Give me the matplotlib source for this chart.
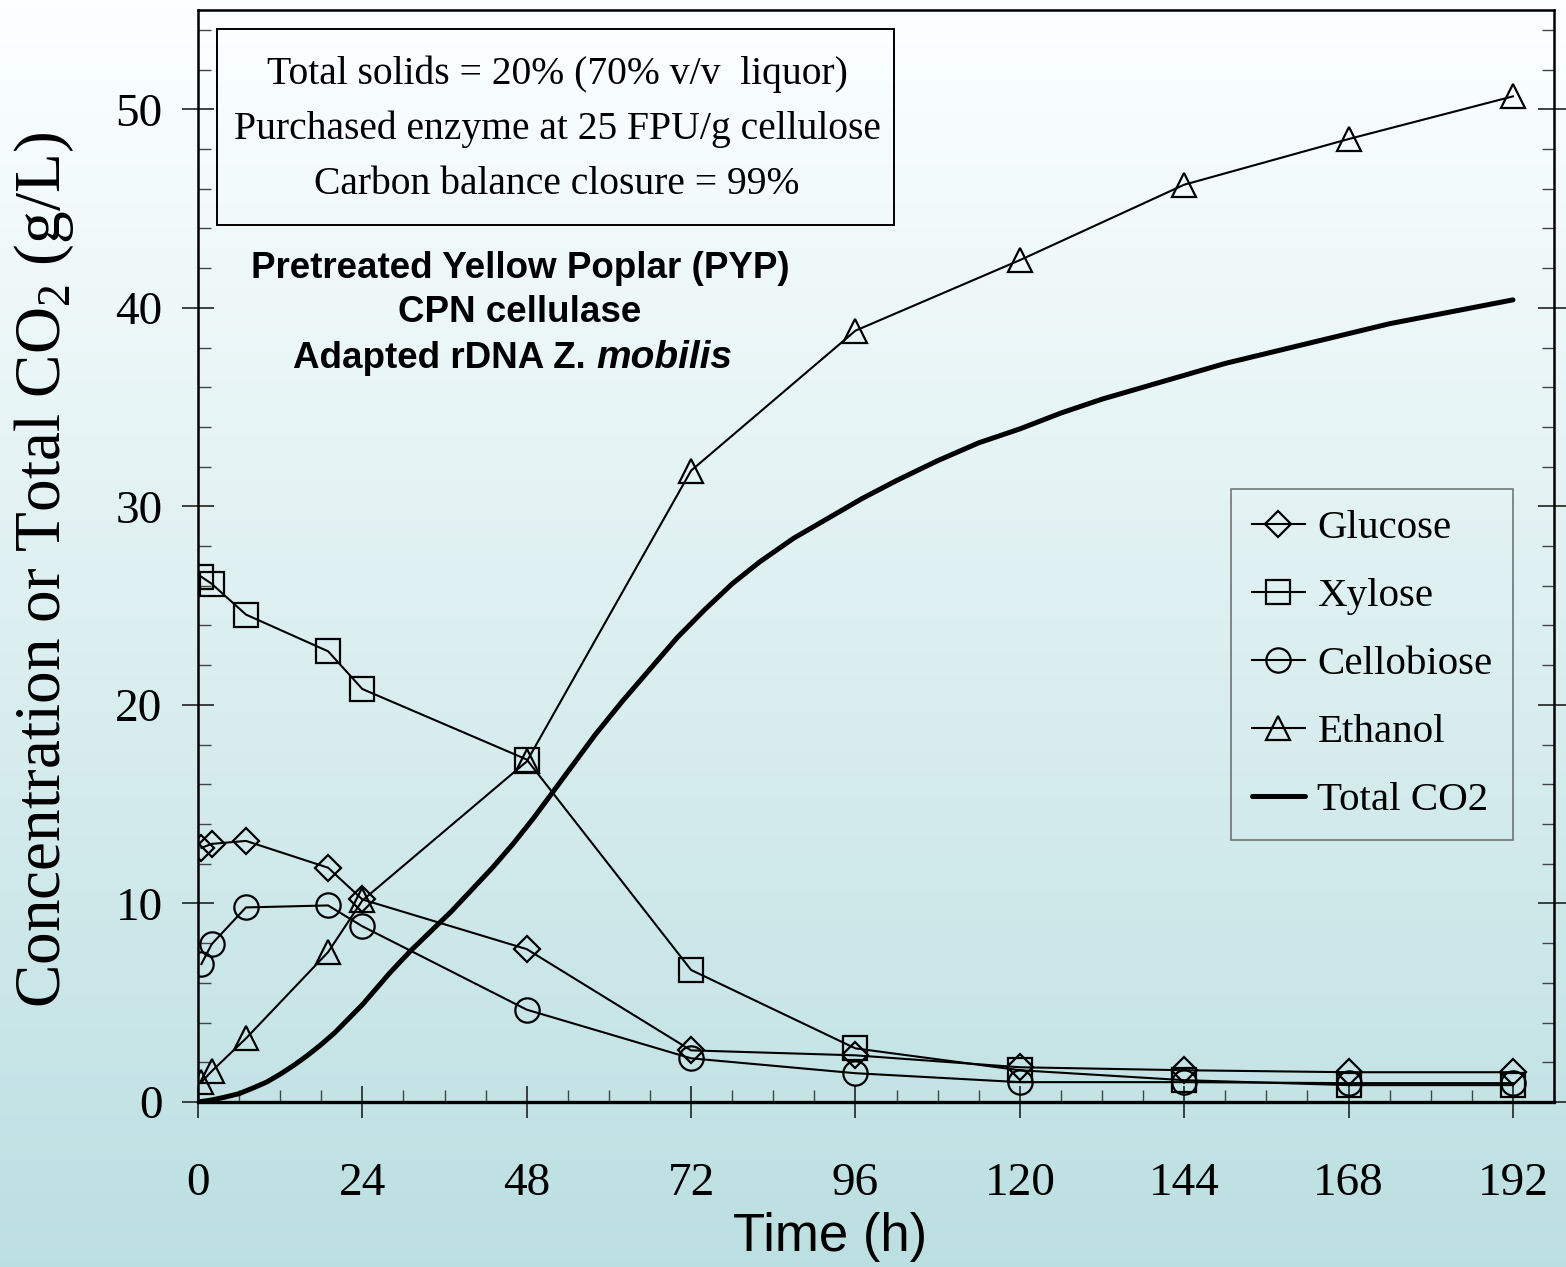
import numpy as np
import matplotlib.pyplot as plt
from matplotlib.ticker import MultipleLocator
from matplotlib.patches import Rectangle

# SSCF run on pretreated yellow poplar: sugars, ethanol and total CO2 vs time

time_h = [0.5, 2, 7, 19, 24, 48, 72, 96, 120, 144, 168, 192]
glucose = [12.8, 13.0, 13.15, 11.8, 10.2, 7.7, 2.6, 2.35, 1.75, 1.6, 1.5, 1.5]
xylose = [26.45, 26.1, 24.55, 22.7, 20.8, 17.25, 6.65, 2.7, 1.6, 1.1, 0.85, 0.85]
cellobiose = [6.95, 7.95, 9.8, 9.9, 8.85, 4.65, 2.2, 1.45, 1.0, 1.0, 0.95, 0.95]
ethanol = [1.0, 1.55, 3.2, 7.55, 10.15, 17.15, 31.8, 38.85, 42.4, 46.2, 48.5, 50.65]

co2_time = [0, 2, 4, 6, 8, 10, 12, 14, 16, 18, 20, 22, 24, 26, 28, 31, 34, 37,
            40, 43, 46, 49, 52, 55, 58, 62, 66, 70, 74, 78, 82, 87, 92, 97,
            102, 108, 114, 120, 126, 132, 138, 144, 150, 156, 162, 168, 174,
            180, 186, 192]
co2_total = [0.0, 0.1, 0.25, 0.42, 0.7, 1.0, 1.4, 1.85, 2.35, 2.9, 3.5, 4.2,
             4.9, 5.7, 6.5, 7.6, 8.6, 9.6, 10.7, 11.8, 13.0, 14.3, 15.7, 17.1,
             18.5, 20.2, 21.8, 23.4, 24.8, 26.1, 27.2, 28.4, 29.4, 30.4, 31.3,
             32.3, 33.2, 33.9, 34.7, 35.4, 36.0, 36.6, 37.2, 37.7, 38.2, 38.7,
             39.2, 39.6, 40.0, 40.4]

x_ticks = [0, 24, 48, 72, 96, 120, 144, 168, 192]
y_ticks = [0, 10, 20, 30, 40, 50]

box_lines = ['Total solids = 20% (70% v/v  liquor)',
             'Purchased enzyme at 25 FPU/g cellulose',
             'Carbon balance closure = 99%']

serif = 'Liberation Serif'
sans = 'Liberation Sans'
plt.rcParams['font.family'] = serif
plt.rcParams['mathtext.fontset'] = 'custom'
plt.rcParams['mathtext.rm'] = serif

W, H = 1566, 1267
fig = plt.figure(figsize=(W / 100, H / 100), dpi=100)

# background gradient white -> pale teal
bg = fig.add_axes([0, 0, 1, 1], zorder=-10)
top_c = np.array([0.99, 1.0, 1.0])
bot_c = np.array([0.737, 0.875, 0.886])
frac = np.linspace(0, 1, 256)[:, None, None]
grad = top_c * (1 - frac) + bot_c * frac
bg.imshow(np.repeat(grad, 2, axis=1), aspect='auto', extent=[0, 1, 0, 1])
bg.axis('off')

ax = fig.add_axes([198 / W, 1 - 1102 / H, (1554 - 198) / W, (1102 - 10) / H])
ax.set_facecolor('none')

mk = dict(color='black', lw=1.5, mfc='none', mec='black', mew=1.6)
ax.plot(time_h, glucose, marker='D', ms=13.5, label='Glucose', **mk)
ax.plot(time_h, xylose, marker='s', ms=17.5, label='Xylose', **mk)
ax.plot(time_h, cellobiose, marker='o', ms=17.5, label='Cellobiose', **mk)
ax.plot(time_h, ethanol, marker='^', ms=17, label='Ethanol', **mk)
ax.plot(co2_time, co2_total, color='black', lw=3.6, label='Total CO2',
        solid_joinstyle='round', solid_capstyle='round')

ax.set_xlim(0, 198)
ax.set_ylim(0, 55)
ax.set_xticks(x_ticks)
ax.set_yticks(y_ticks)
ax.xaxis.set_minor_locator(MultipleLocator(6))
ax.yaxis.set_minor_locator(MultipleLocator(2))
ax.tick_params(which='both', right=True, top=False, color='#222222')
ax.tick_params(which='major', direction='inout', length=23, width=1.2,
               labelsize=34)
ax.tick_params(which='minor', direction='in', length=9, width=1.0,
               color='#444444')
ax.tick_params(axis='x', which='major', pad=32)
ax.tick_params(axis='y', which='major', pad=14)
for s in ax.spines.values():
    s.set_linewidth(1.8)
ax.spines['bottom'].set_linewidth(2.4)

fig.text(44 / W, 1 - 570 / H, r'Concentration or Total CO$_\mathregular{2}$ (g/L)',
         rotation=90, ha='center', va='center', fontsize=47)
fig.text(830 / W, 1 - 1237 / H, 'Time (h)', family=sans, fontsize=38,
         ha='center', va='center')

# conditions box
fig.patches.append(Rectangle((217 / W, 1 - 225 / H), (894 - 217) / W, (225 - 29) / H,
                             transform=fig.transFigure, fill=False,
                             edgecolor='black', lw=1.4))
for i, line in enumerate(box_lines):
    fig.text(557 / W, 1 - (74 + 55 * i) / H, line, fontsize=28.5,
             ha='center', va='center')

fig.text(520 / W, 1 - 269 / H, 'Pretreated Yellow Poplar (PYP)', family=sans,
         weight='bold', fontsize=26.5, ha='center', va='center')
fig.text(520 / W, 1 - 313 / H, 'CPN cellulase', family=sans,
         weight='bold', fontsize=26.5, ha='center', va='center')
fig.text(586 / W, 1 - 368 / H, 'Adapted rDNA Z.', family=sans,
         weight='bold', fontsize=26.5, ha='right', va='baseline')
fig.text(596 / W, 1 - 368 / H, 'mobilis', family=sans, style='italic',
         weight='bold', fontsize=28, ha='left', va='baseline')

leg = ax.legend(loc='upper right', bbox_to_anchor=(1513 / W, 1 - 489 / H),
                bbox_transform=fig.transFigure, borderaxespad=0,
                fontsize=29.5, frameon=True, fancybox=False, edgecolor='#555555',
                facecolor='none', handlelength=1.3, handletextpad=0.3,
                labelspacing=0.74, borderpad=0.5)
leg.get_frame().set_linewidth(1.2)

fig.savefig('out.png', dpi=100)
